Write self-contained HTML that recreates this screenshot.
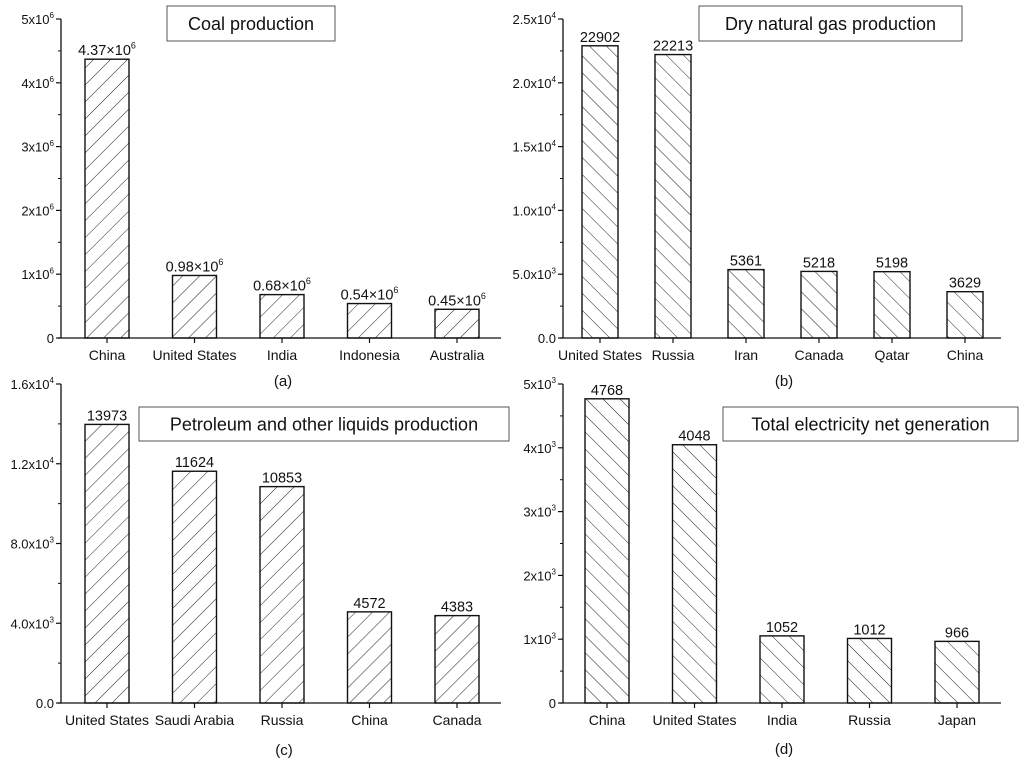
<!DOCTYPE html>
<html><head><meta charset="utf-8"><style>
html,body{margin:0;padding:0;background:#fff;}
svg{display:block;font-family:"Liberation Sans",Arial,sans-serif;}
</style></head><body>
<svg id="svg" width="1024" height="766" viewBox="0 0 1024 766">
<defs>
<pattern id="hatchF" patternUnits="userSpaceOnUse" width="12" height="12" patternTransform="rotate(45)"><line x1="0" y1="0" x2="0" y2="12" stroke="#222" stroke-width="1"/></pattern>
<pattern id="hatchB" patternUnits="userSpaceOnUse" width="12" height="12" patternTransform="rotate(-45)"><line x1="0" y1="0" x2="0" y2="12" stroke="#222" stroke-width="1"/></pattern>
</defs>
</svg>
<script>
// Panel (a) coal
const coalCats=["China","United States","India","Indonesia","Australia"];
const coalVals=[4.37e6,0.98e6,0.68e6,0.54e6,0.45e6];
const coalLabels=["4.37×10|6","0.98×10|6","0.68×10|6","0.54×10|6","0.45×10|6"];
const coalTicks=[0,1e6,2e6,3e6,4e6,5e6];
const coalTickLabels=["0","1x10|6","2x10|6","3x10|6","4x10|6","5x10|6"];
// Panel (b) gas
const gasCats=["United States","Russia","Iran","Canada","Qatar","China"];
const gasVals=[22902,22213,5361,5218,5198,3629];
const gasTicks=[0,5000,10000,15000,20000,25000];
const gasTickLabels=["0.0","5.0x10|3","1.0x10|4","1.5x10|4","2.0x10|4","2.5x10|4"];
// Panel (c) petroleum
const petCats=["United States","Saudi Arabia","Russia","China","Canada"];
const petVals=[13973,11624,10853,4572,4383];
const petTicks=[0,4000,8000,12000,16000];
const petTickLabels=["0.0","4.0x10|3","8.0x10|3","1.2x10|4","1.6x10|4"];
// Panel (d) electricity
const elecCats=["China","United States","India","Russia","Japan"];
const elecVals=[4768,4048,1052,1012,966];
const elecTicks=[0,1000,2000,3000,4000,5000];
const elecTickLabels=["0","1x10|3","2x10|3","3x10|3","4x10|3","5x10|3"];

const NS="http://www.w3.org/2000/svg";
const svg=document.getElementById('svg');
function mk(tag,attrs,parent){const e=document.createElementNS(NS,tag);for(const k in attrs)e.setAttribute(k,attrs[k]);(parent||svg).appendChild(e);return e;}
function supText(parent,str,x,y,size,anchor){
  const parts=str.split('|');
  const t=mk('text',{x:x,y:y,'font-size':size,'text-anchor':anchor,fill:'#111'},parent);
  t.appendChild(document.createTextNode(parts[0]));
  if(parts[1]){const ts=mk('tspan',{dy:-size*0.45,'font-size':size*0.62},t);ts.textContent=parts[1];}
  return t;
}
function panel(o){
  const g=mk('g',{});
  
  
  const max=o.ticks[o.ticks.length-1];
  const y=v=>o.y0-(v/max)*(o.y0-o.yTop);
  const x=i=>o.x0+o.first+i*o.step;
  o.vals.forEach((v,i)=>{
    const r=mk('rect',{x:x(i)-o.bw/2,y:y(v),width:o.bw,height:o.y0-y(v),fill:'url(#'+o.hatch+')',stroke:'#111','stroke-width':1.4},g);
    
    
    const lbl=o.labels?o.labels[i]:String(v);
    const t=supText(g,lbl,x(i),y(v)-4,14.5,'middle');
    
    
    const c=mk('text',{x:x(i),y:o.y0+22,'font-size':14,'text-anchor':'middle',fill:'#111'},g);
    c.textContent=o.cats[i];
    
    
    mk('line',{x1:x(i),y1:o.y0,x2:x(i),y2:o.y0+5,stroke:'#111','stroke-width':1.2},g);
  });
  mk('line',{x1:o.x0,y1:o.yTop,x2:o.x0,y2:o.y0,stroke:'#111','stroke-width':1.3},g);
  mk('line',{x1:o.x0-3,y1:o.y0,x2:o.xEnd,y2:o.y0,stroke:'#111','stroke-width':1.3},g);
  o.ticks.forEach((tv,i)=>{
    mk('line',{x1:o.x0-5,y1:y(tv),x2:o.x0,y2:y(tv),stroke:'#111','stroke-width':1.2},g);
    if(i>0){const mv=(tv+o.ticks[i-1])/2;mk('line',{x1:o.x0-3,y1:y(mv),x2:o.x0,y2:y(mv),stroke:'#111','stroke-width':1},g);}
    const t=supText(g,o.tickLabels[i],o.x0-7,y(tv)+5,13,'end');
    
    
  });
  const b=o.box;
  const br=mk('rect',{x:b[0],y:b[1],width:b[2]-b[0],height:b[3]-b[1],fill:'#fff',stroke:'#555','stroke-width':1},g);
  
  
  const tt=mk('text',{x:(b[0]+b[2])/2,y:(b[1]+b[3])/2+6.5,'font-size':18,'text-anchor':'middle',fill:'#111'},g);
  tt.textContent=o.title;
  
  
  const pl=mk('text',{x:o.pl[0],y:o.pl[1],'font-size':15,'text-anchor':'middle',fill:'#111'},g);
  pl.textContent=o.plabel;
  
  
}
panel({name:'coal-chart',cats:coalCats,vals:coalVals,labels:coalLabels,ticks:coalTicks,tickLabels:coalTickLabels,x0:61,xEnd:501,y0:338,yTop:19,first:46,step:87.5,bw:44,hatch:'hatchF',box:[167,6,335,41],title:'Coal production',plabel:'(a)',pl:[283,386]});
panel({name:'gas-chart',cats:gasCats,vals:gasVals,ticks:gasTicks,tickLabels:gasTickLabels,x0:563,xEnd:1001,y0:338,yTop:19,first:37,step:73,bw:36,hatch:'hatchB',box:[699,6,962,41],title:'Dry natural gas production',plabel:'(b)',pl:[784,386]});
panel({name:'petroleum-chart',cats:petCats,vals:petVals,ticks:petTicks,tickLabels:petTickLabels,x0:61,xEnd:501,y0:703,yTop:384,first:46,step:87.5,bw:44,hatch:'hatchF',box:[139,407,509,441],title:'Petroleum and other liquids production',plabel:'(c)',pl:[284,755]});
panel({name:'electricity-chart',cats:elecCats,vals:elecVals,ticks:elecTicks,tickLabels:elecTickLabels,x0:563,xEnd:1001,y0:703,yTop:384,first:44,step:87.5,bw:44,hatch:'hatchB',box:[723,407,1018,441],title:'Total electricity net generation',plabel:'(d)',pl:[784,754]});
</script>
</body></html>
